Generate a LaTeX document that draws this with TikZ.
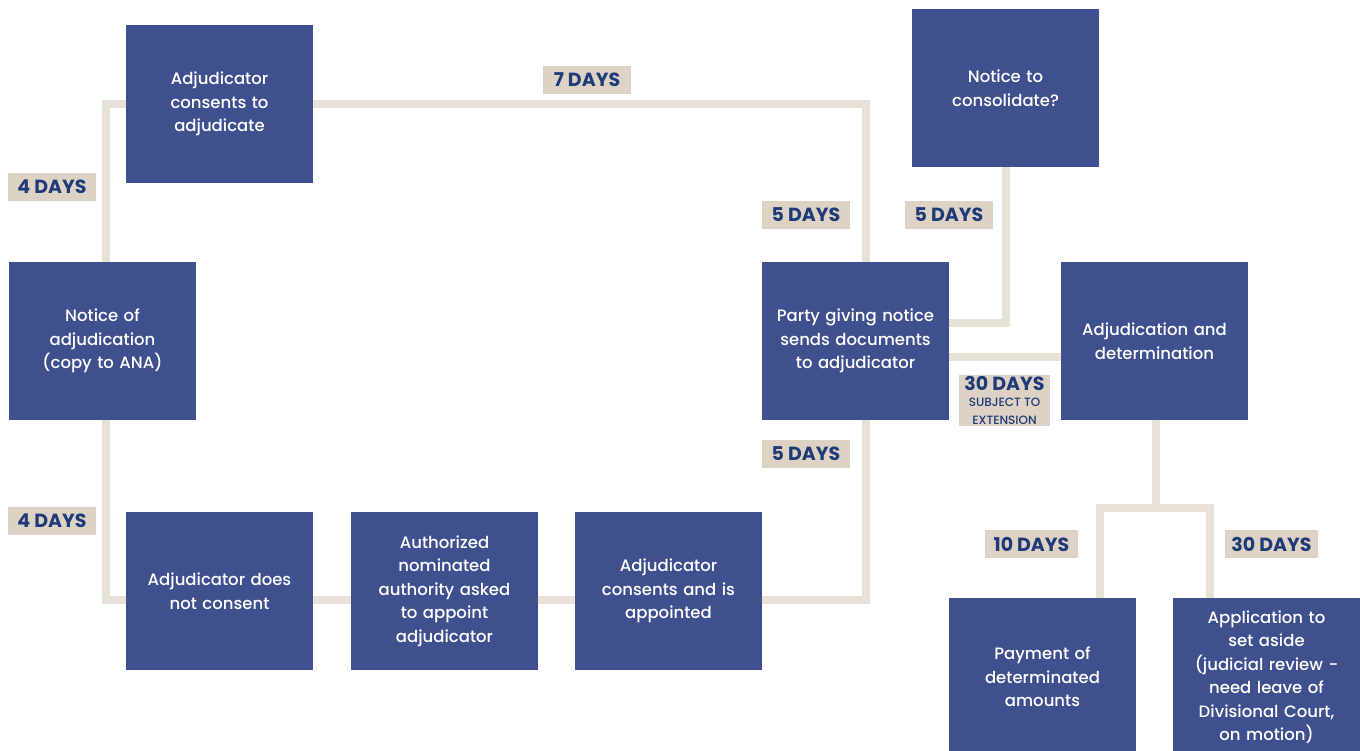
\documentclass[tikz,border=0pt]{standalone}
\usepackage{fontspec}
\setmainfont{Poppins}[UprightFont=* Medium,BoldFont=* Bold]
\usetikzlibrary{backgrounds}
\definecolor{boxBlue}{HTML}{3F508E}
\definecolor{lineSand}{HTML}{E8E1D6}
\definecolor{tagSand}{HTML}{DDD2C3}
\definecolor{tagInk}{HTML}{1E3A78}

\begin{document}
\begin{tikzpicture}[x=1pt,y=-1pt,font=\fontsize{16.5}{23.5}\selectfont,
      s/.style={fill=boxBlue,text=white,minimum width=187pt,minimum height=158pt,
                inner sep=0pt,align=center,text width=175pt},
      d/.style={fill=tagSand,text=tagInk,font=\fontsize{19}{22}\selectfont\bfseries,
                minimum width=88pt,minimum height=28pt,inner sep=2pt},
      l/.style={draw=lineSand,line width=8pt}]
    \useasboundingbox (0,0) rectangle (1360,751);

    \node[s] (cons)  at (219.5,104)  {Adjudicator\\consents to\\adjudicate};
    \node[s] (nad)   at (102.5,341)  {Notice of\\adjudication\\(copy to ANA)};
    \node[s] (ncon)  at (219.5,591)  {Adjudicator does\\not consent};
    \node[s] (auth)  at (444.5,591)  {Authorized\\nominated\\authority asked\\to appoint\\adjudicator};
    \node[s] (appt)  at (668.5,591)  {Adjudicator\\consents and is\\appointed};
    \node[s] (party) at (855.5,341)  {Party giving notice\\sends documents\\to adjudicator};
    \node[s] (cnsl)  at (1005.5,88)  {Notice to\\consolidate?};
    \node[s] (adj)   at (1154.5,341) {Adjudication and\\determination};
    \node[s] (pay)   at (1042.5,677) {Payment of\\determinated\\amounts};
    \node[s] (appl)  at (1266.5,677) {Application to\\set aside\\(judicial review -\\need leave of\\Divisional Court,\\on motion)};

    \coordinate (split) at (1156,508);

    \begin{scope}[on background layer]
      \draw[l] ([xshift=3pt]nad.north) |- (cons.west);
      \draw[l] (cons.east) -| ([xshift=10pt]party.north);
      \draw[l] ([xshift=3pt]nad.south) |- ([yshift=-9pt]ncon.west);
      \foreach \a/\b in {ncon/auth,auth/appt}
        \draw[l] ([yshift=-9pt]\a.east) -- ([yshift=-9pt]\b.west);
      \draw[l] ([yshift=-9pt]appt.east) -| ([xshift=10pt]party.south);
      \draw[l] ([yshift=18pt]party.east) -| (cnsl.south);
      \draw[l] ([yshift=-16pt]party.east) -- ([yshift=-16pt]adj.west);
      \draw[l] ([xshift=1.5pt]adj.south) -- (split);
      \draw[l] ([xshift=57.5pt]pay.north) |- (split) -| ([xshift=-56.5pt]appl.north);
    \end{scope}

    \node[d] (t1) at (52,187)   {4 DAYS};
    \node[d] (t2) at (587,80)   {7 DAYS};
    \node[d] (t3) at (806,215)  {5 DAYS};
    \node[d] (t4) at (949,215)  {5 DAYS};
    \node[d] (t5) at (52,521)   {4 DAYS};
    \node[d] (t6) at (806,454)  {5 DAYS};
    \node[d,align=center,minimum width=91pt,inner sep=1pt] (t7) at (1004.5,400.5)
      {30 DAYS\\[-6pt]{\fontsize{12}{12}\selectfont\mdseries SUBJECT TO}\\[-4pt]{\fontsize{12}{12}\selectfont\mdseries EXTENSION}};
    \node[d,minimum width=93pt] (t8) at (1031.5,544) {10 DAYS};
    \node[d,minimum width=93pt] (t9) at (1271.5,544) {30 DAYS};
  \end{tikzpicture}
\end{document}
